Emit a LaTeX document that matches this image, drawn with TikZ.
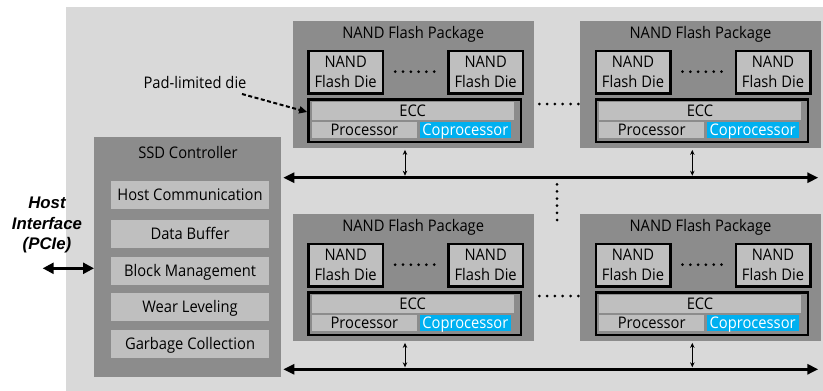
\documentclass[tikz,border=0pt]{standalone}
\usepackage{fontspec}
\setmainfont{Open Sans}[FakeStretch=0.92]
\newfontfamily\hostfont{Liberation Sans}
\usetikzlibrary{arrows.meta}

\begin{document}
\begin{tikzpicture}[x=1pt,y=-1pt,
  font=\fontsize{16pt}{20pt}\selectfont,
  pkgbox/.style={fill=pkgcol, inner sep=0, anchor=north west, minimum width=241, minimum height=127},
  diebox/.style={fill=boxcol, draw=black, line width=2.5pt, inner sep=0, anchor=north west, align=center, minimum width=74.5, minimum height=42.5},
  eccframe/.style={fill=pkgcol, draw=black, line width=2.5pt, inner sep=0, anchor=north west, minimum width=212.3, minimum height=42.5},
  barbox/.style={fill=boxcol, inner sep=0, anchor=north west, text height=11.5pt, text depth=0pt},
  copbox/.style={barbox, fill=copcol, text=white},
  ctrlitem/.style={barbox, minimum width=157.7, minimum height=28},
  hostlbl/.style={anchor=north, inner sep=0, align=center, font=\hostfont\bfseries\itshape\fontsize{16.8pt}{20.5pt}\selectfont},
  dotrow/.style={line width=3pt, line cap=round, dash pattern=on 0pt off #1},
  dotrow/.default=7.8pt,
  bus/.style={line width=2.7pt, {Triangle[length=11pt,width=10pt]}-{Triangle[length=11pt,width=10pt]}},
  tap/.style={line width=0.8pt, {Stealth[length=5pt,width=4.5pt]}-{Stealth[length=5pt,width=4.5pt]}, shorten <=1.5pt, shorten >=2pt},
  hostarrow/.style={line width=2.5pt, {Triangle[length=11pt,width=11pt]}-{Triangle[length=11pt,width=11pt]}},
  padarrow/.style={line width=2pt, dash pattern=on 4pt off 2.5pt, -{Triangle[length=8pt,width=7pt]}}]
\definecolor{bgcol}{RGB}{217,217,217}
\definecolor{pkgcol}{RGB}{140,140,140}
\definecolor{boxcol}{RGB}{191,191,191}
\definecolor{copcol}{RGB}{0,176,240}
% one NAND flash package: name, left, top
\def\flashpkg#1#2#3{
\node[pkgbox] (#1) at (#2,#3) {};
\node[anchor=base] (#1-lbl) at (#2+120.5,#3+17) {NAND Flash Package};
\node[diebox] (#1-die1) at (#2+14.5,#3+28.5) {NAND\\Flash Die};
\node[diebox] (#1-die2) at (#2+154.5,#3+28.5) {NAND\\Flash Die};
\draw[dotrow] (#2+102.5,#3+50.7) -- (#2+141.5,#3+50.7);
\node[eccframe] (#1-ecc) at (#2+14.5,#3+77) {};
\node[barbox, minimum width=201.6, minimum height=17.6] (#1-eccbar) at (#2+19,#3+80.7) {ECC};
\node[barbox, minimum width=105, minimum height=15.7] (#1-proc) at (#2+19,#3+101) {Processor};
\node[copbox, minimum width=91.7, minimum height=15.7] (#1-cop) at (#2+126.6,#3+101) {Coprocessor};
}
\useasboundingbox (0,0) rectangle (823,391);
\fill[bgcol] (66,7) rectangle (823,391);

\node[pkgbox, minimum width=187, minimum height=240.3] (ctrl) at (94,136.7) {};
\node[anchor=base] (ctrl-lbl) at (188,158) {SSD Controller};
\node[ctrlitem] (hostcomm) at (111,181) {Host Communication};
\node[ctrlitem] (databuf) at (111,219.5) {Data Buffer};
\node[ctrlitem] (blockmgmt) at (111,256.7) {Block Management};
\node[ctrlitem] (wearlvl) at (111,292.7) {Wear Leveling};
\node[ctrlitem] (gc) at (111,330) {Garbage Collection};

\node[hostlbl] (hostif) at (47,197) {Host\\Interface\\(PCIe)};
\coordinate (hostend) at (42.7,268.3);
\draw[hostarrow] (hostend) -- (hostend -| ctrl.west);

\flashpkg{pkgA}{292.7}{21}
\flashpkg{pkgB}{580}{21}
\flashpkg{pkgC}{292.7}{214}
\flashpkg{pkgD}{580}{214}

\draw[dotrow] (539.3,104) -- (578.3,104);
\draw[dotrow] (539.3,296) -- (578.3,296);
\draw[dotrow=7.14pt] (557,184.3) -- (557,220);

\node[anchor=base] (pad) at (195,88) {Pad-limited die};
\coordinate (padtail) at (242,94);
\draw[padarrow] (padtail) -- ([yshift=8.5pt]pkgA-ecc.west);

\coordinate (busT-w) at (283.3,177.7);
\coordinate (busT-e) at (818.3,177.7);
\coordinate (busB-w) at (283.3,369.3);
\coordinate (busB-e) at (818.3,369.3);
\draw[bus] (busT-w) -- (busT-e);
\draw[bus] (busB-w) -- (busB-e);

\coordinate (tapA) at (405,177.7);
\coordinate (tapB) at (692.3,177.7);
\coordinate (tapC) at (405,369.3);
\coordinate (tapD) at (692.3,369.3);
\draw[tap] (tapA |- pkgA.south) -- (tapA);
\draw[tap] (tapB |- pkgB.south) -- (tapB);
\draw[tap] (tapC |- pkgC.south) -- (tapC);
\draw[tap] (tapD |- pkgD.south) -- (tapD);
\end{tikzpicture}
\end{document}
